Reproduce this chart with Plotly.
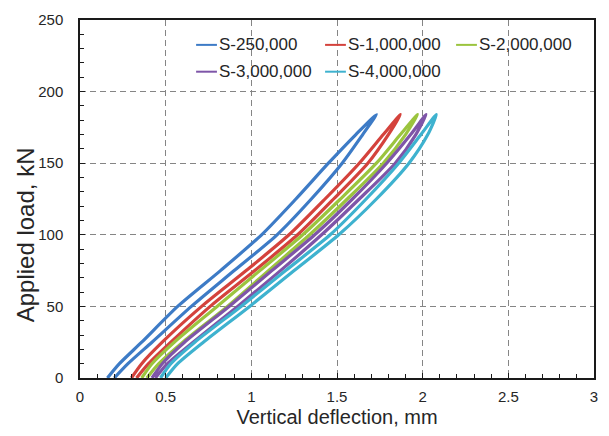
import plotly.graph_objects as go

# Series names and colours
series_names = ["S-250,000", "S-1,000,000", "S-2,000,000", "S-3,000,000", "S-4,000,000"]
colors = ["#3D7BC6", "#D4423C", "#9BC43E", "#7E55A8", "#3EB2CF"]

# Load levels (kN) at which deflections were read
load_levels = [0, 10, 25, 50, 75, 100, 125, 150, 170, 184]

# Deflection (mm) on the loading branch (right/lower branch), bottom -> peak
loading_defl = [
    [0.20, 0.28, 0.42, 0.65, 0.90, 1.15, 1.35, 1.53, 1.65, 1.73],
    [0.33, 0.40, 0.53, 0.76, 1.02, 1.27, 1.48, 1.68, 1.80, 1.87],
    [0.39, 0.46, 0.60, 0.86, 1.10, 1.34, 1.56, 1.77, 1.90, 1.97],
    [0.44, 0.51, 0.66, 0.92, 1.17, 1.41, 1.63, 1.84, 1.96, 2.02],
    [0.50, 0.57, 0.72, 0.99, 1.25, 1.51, 1.73, 1.92, 2.03, 2.08],
]
# Deflection (mm) on the unloading branch (left/upper branch), bottom -> peak
unloading_defl = [
    [0.16, 0.23, 0.36, 0.57, 0.82, 1.06, 1.26, 1.45, 1.61, 1.73],
    [0.30, 0.36, 0.48, 0.71, 0.97, 1.22, 1.43, 1.63, 1.77, 1.87],
    [0.36, 0.42, 0.55, 0.80, 1.05, 1.30, 1.52, 1.73, 1.87, 1.97],
    [0.42, 0.48, 0.61, 0.87, 1.12, 1.37, 1.59, 1.79, 1.93, 2.02],
    [0.47, 0.53, 0.67, 0.94, 1.20, 1.46, 1.67, 1.86, 1.99, 2.08],
]

x_ticks = [0, 0.5, 1, 1.5, 2, 2.5, 3]
x_tick_labels = ["0", "0.5", "1", "1.5", "2", "2.5", "3"]
y_ticks = [0, 50, 100, 150, 200, 250]

fig = go.Figure()
for name, col, ld, ul in zip(series_names, colors, loading_defl, unloading_defl):
    xs = list(ld) + list(reversed(ul))[1:]
    ys = list(load_levels) + list(reversed(load_levels))[1:]
    fig.add_trace(go.Scatter(x=xs, y=ys, mode="lines", name=name,
                             line=dict(color=col, width=3.2, shape="spline", smoothing=0.7),
                             showlegend=False))

font_family = "Liberation Sans, Arial, sans-serif"
text_color = "#262626"

# Custom legend (two rows, three columns)
leg_cols_x = [0.2259, 0.4768, 0.7317]
leg_rows_y = [0.9305, 0.8556]
line_len = 0.0405
text_gap = 0.0405
for i, (name, col) in enumerate(zip(series_names, colors)):
    r, c = divmod(i, 3)
    x0 = leg_cols_x[c]
    y0 = leg_rows_y[r]
    fig.add_shape(type="line", xref="paper", yref="paper", x0=x0, x1=x0 + line_len,
                  y0=y0, y1=y0, line=dict(color=col, width=2))
    fig.add_annotation(xref="paper", yref="paper", x=x0 + text_gap, y=y0, text=name,
                       showarrow=False, xanchor="left", yanchor="middle",
                       font=dict(size=17, color=text_color, family=font_family))

# Y-axis title (placed as in the reference, slightly below the plot centre)
fig.add_annotation(xref="paper", yref="paper", x=-0.106, y=0.40, text="Applied load, kN",
                   textangle=-90, showarrow=False, xanchor="center", yanchor="middle",
                   font=dict(size=24, color=text_color, family=font_family))

axis_common = dict(
    showline=True, linecolor="#1a1a1a", linewidth=1.5, mirror=True,
    showgrid=True, gridcolor="#858585", gridwidth=1.2, griddash="6px,4px",
    ticks="inside", ticklen=5, tickcolor="#1a1a1a", tickwidth=1,
    zeroline=False,
    tickfont=dict(size=15, color=text_color, family=font_family),
)

fig.update_xaxes(range=[0, 3], tickvals=x_ticks, ticktext=x_tick_labels,
                 ticklabelstandoff=4,
                 title=dict(text="Vertical deflection, mm", standoff=6,
                            font=dict(size=20, color=text_color, family=font_family)),
                 minor=dict(dtick=0.1, ticks="inside", ticklen=4, tickcolor="#1a1a1a", showgrid=False),
                 **axis_common)
fig.update_yaxes(range=[0, 250], tickvals=y_ticks,
                 ticklabelstandoff=12,
                 minor=dict(dtick=10, ticks="inside", ticklen=4, tickcolor="#1a1a1a", showgrid=False),
                 **axis_common)

fig.update_layout(
    width=609, height=436,
    margin=dict(l=80, r=11, t=11, b=58),
    plot_bgcolor="white", paper_bgcolor="white",
    font=dict(family=font_family, color=text_color),
)

fig.write_html("out.html", config={"displayModeBar": False},
               post_script="document.body.style.margin='0';")
